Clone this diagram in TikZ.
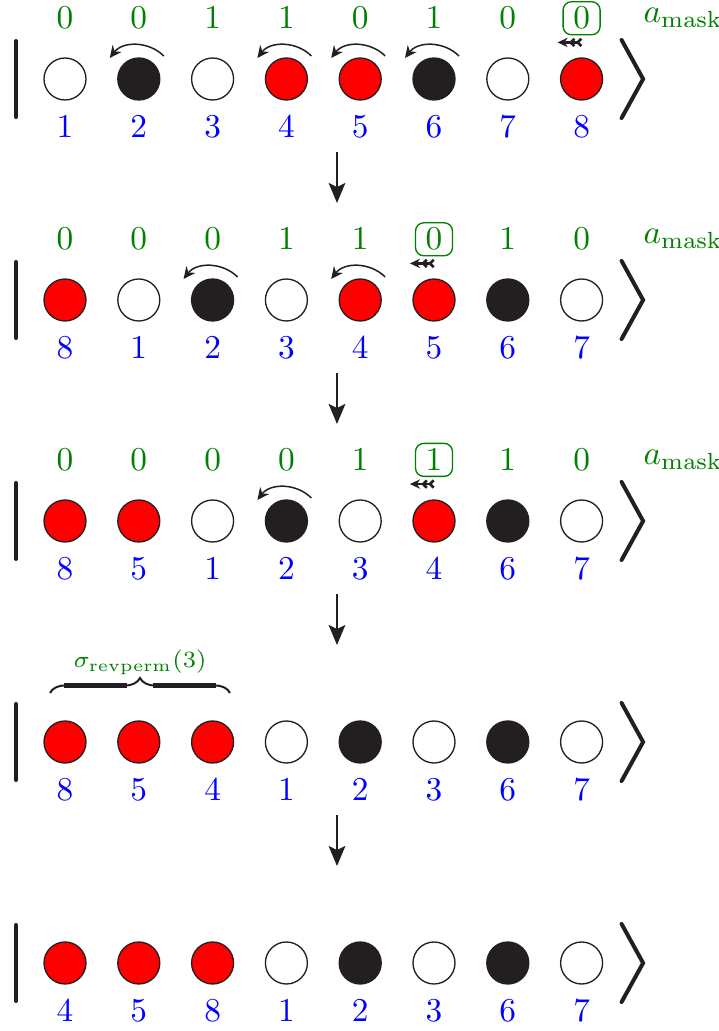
\documentclass[tikz,border=0pt]{standalone}
\usetikzlibrary{arrows.meta,calc,decorations.pathreplacing}
\definecolor{ink}{RGB}{35,31,32}
\definecolor{maskgreen}{RGB}{0,128,0}
\definecolor{idblue}{RGB}{0,0,255}
\definecolor{ballred}{RGB}{255,0,0}
\tikzset{
  ball/.style={circle,draw=ink,line width=0.4pt,minimum size=12.6pt,inner sep=0pt},
  ballw/.style={ball,fill=white},
  ballk/.style={ball,fill=ink},
  ballr/.style={ball,fill=ballred},
  masklbl/.style={text=maskgreen,anchor=base,inner sep=1pt},
  idlbl/.style={text=idblue,anchor=base,inner sep=0pt},
  maskbox/.style={draw=maskgreen,line width=0.4pt,rounded corners=2.5pt,
    minimum width=11.1pt,minimum height=9.9pt,inner sep=0pt},
  curl/.style={draw=ink,line width=0.45pt,-{Stealth[length=3.6pt,width=3.4pt]}},
  shiftarrow/.style={draw=ink,line width=0.7pt,
    {Straight Barb[reversed,length=1.1pt,width=2.2pt,line width=0.8pt]Straight Barb[reversed,length=1.1pt,width=2.2pt,line width=0.8pt]}-{Stealth[length=3pt,width=2.8pt]}},
  ketline/.style={draw=ink,line width=1.2pt,line cap=round,line join=miter},
  stage/.style={draw=ink,line width=0.6pt,-{Stealth[length=6pt,width=5pt,inset=1.2pt]}},
  bracethin/.style={draw=ink,line width=0.6pt,decorate,decoration={brace,amplitude=4.5pt}},
  bracebar/.style={draw=ink,line width=1.3pt,line cap=butt},
}

% one register: balls, particle indices and the ket brackets
\newcommand\drawrow[4]{%
  \foreach \s [count=\i] in {#3}
    \node[ball\s] (c#1-\i) at ({65+73.8*(\i-1)},#2) {};
  \foreach \v [count=\i] in {#4}
    \node[idlbl] (b#1-\i) at ($(c#1-\i)+(0,-59)$) {\v};
  \draw[ketline] ($(c#1-1)+(-49,38)$) -- ($(c#1-1)+(-49,-38)$);
  \draw[ketline] ($(c#1-8)+(40,39)$) -- ($(c#1-8)+(61.5,0)$) -- ($(c#1-8)+(40,-39)$);
}
% mask bits above a register, with the current bit boxed
\newcommand\drawmask[3]{%
  \foreach \v [count=\i] in {#2}
    \node[masklbl] (t#1-\i) at ($(c#1-\i)+(0,50)$) {\v};
  \node[maskbox] (box#1) at (t#1-#3) {};
  \coordinate (s#1a) at ($(box#1.south)+(1,-7)$);
  \coordinate (s#1b) at ($(s#1a)+(-25,0)$);
  \draw[shiftarrow] (s#1a) -- (s#1b);
  \node[masklbl,anchor=base west] (am#1) at ($(c#1-8)+(58,56)$) {$a_{\mathrm{mask}}$};
}
% swap arrows over the given balls
\newcommand\drawswaps[2]{%
  \foreach \i in {#2}
    \draw[curl] ($(c#1-\i)+(25,23)$) .. controls ($(c#1-\i)+(10,38)$) and ($(c#1-\i)+(-16,38)$) .. ($(c#1-\i)+(-29,21)$);
}
% step arrow between two registers
\newcommand\drawstep[2]{%
  \coordinate (d#1a) at (337,{#2-73});
  \coordinate (d#1b) at (337,{#2-124});
  \draw[stage] (d#1a) -- (d#1b);
}

\begin{document}
\begin{tikzpicture}[x=0.3pt,y=0.3pt]
\useasboundingbox (0,0) rectangle (718,1031);

\drawrow{1}{952}{w,k,w,r,r,k,w,r}{1,2,3,4,5,6,7,8}
\drawmask{1}{0,0,1,1,0,1,0,0}{8}
\drawswaps{1}{2,4,5,6}
\drawstep{1}{952}

\drawrow{2}{731}{r,w,k,w,r,r,k,w}{8,1,2,3,4,5,6,7}
\drawmask{2}{0,0,0,1,1,0,1,0}{6}
\drawswaps{2}{3,5}
\drawstep{2}{731}

\drawrow{3}{510}{r,r,w,k,w,r,k,w}{8,5,1,2,3,4,6,7}
\drawmask{3}{0,0,0,0,1,1,1,0}{6}
\drawswaps{3}{4}
\drawstep{3}{510}

\drawrow{4}{289}{r,r,r,w,k,w,k,w}{8,5,4,1,2,3,6,7}
% brace over the first three balls: thin curls with heavy bars
\coordinate (brL) at ($(c4-1)+(-15,49)$);
\coordinate (brR) at ($(c4-3)+(17.4,49)$);
\draw[bracethin] (brL) -- (brR);
\draw[bracebar] ($(brL)+(14,7.5)$) -- ($(brL)+(77,7.5)$);
\draw[bracebar] ($(brR)+(-14,7.5)$) -- ($(brR)+(-77,7.5)$);
\node[anchor=base,inner sep=0pt,text=maskgreen,font=\scriptsize] (sig4)
  at ($(brL)!0.5!(brR)+(0,25)$) {$\sigma_{\mathrm{revperm}}(3)$};
\drawstep{4}{289}

\drawrow{5}{68}{r,r,r,w,k,w,k,w}{4,5,8,1,2,3,6,7}
\end{tikzpicture}
\end{document}
